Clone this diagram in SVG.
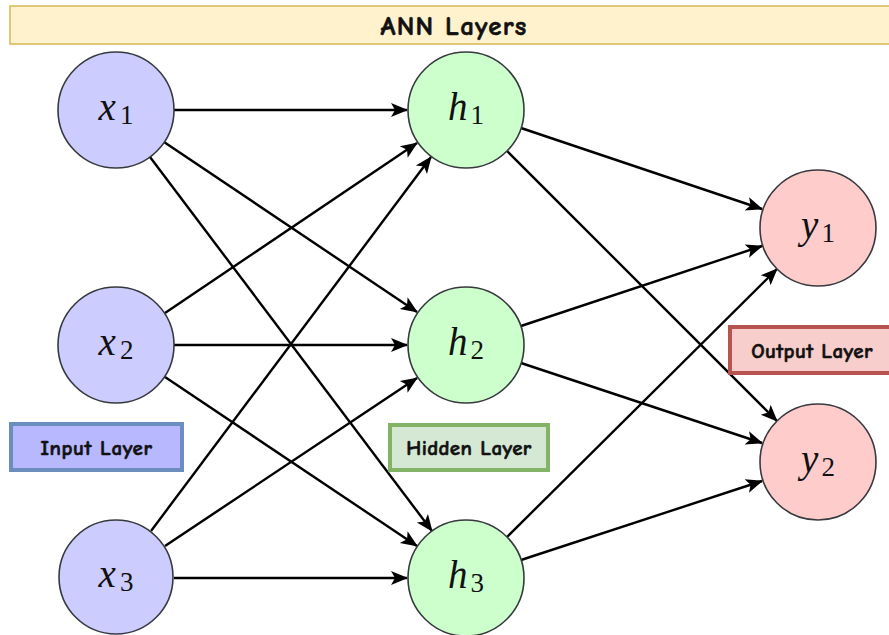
<svg xmlns="http://www.w3.org/2000/svg" width="889" height="635" viewBox="0 0 889 635">
  <defs>
    <marker id="arrow" markerUnits="userSpaceOnUse" markerWidth="18" markerHeight="16" viewBox="0 0 18 16" refX="16" refY="8" orient="auto">
      <path d="M0,1 L17,8 L0,15 L4,8 Z" fill="#000"/>
    </marker>
    <style>
      .edge { stroke: #000; stroke-width: 2.4; fill: none; marker-end: url(#arrow); }
      .node { stroke: #36393d; stroke-width: 1.6; }
      .in { fill: #ccccff; }
      .hid { fill: #ccffcc; }
      .out { fill: #ffcccc; }
      .math { font-family: "Liberation Serif", "DejaVu Serif", serif; font-size: 39px; fill: #111; }
      .sub { font-size: 27px; font-style: normal; }
      .lbl { font-family: "Comic Sans MS", "Comic Neue", "Liberation Sans", sans-serif; font-weight: bold; fill: #111; stroke: #111; stroke-width: 0.6; }
    </style>
  </defs>

  <!-- title bar -->
  <g id="title">
    <rect x="10" y="6" width="895" height="38" fill="#fff2cc" stroke="#d6b656" stroke-width="1.5"/>
    <text class="lbl" x="454" y="35" font-size="27" letter-spacing="1.2" text-anchor="middle">ANN Layers</text>
  </g>

  <!-- connectors -->
  <g id="edges">
    <!-- input to hidden -->
    <line class="edge" x1="174" y1="110" x2="407" y2="110"/>
    <line class="edge" x1="164" y1="142" x2="417" y2="312"/>
    <line class="edge" x1="150" y1="157" x2="432" y2="531"/>
    <line class="edge" x1="165" y1="313" x2="417" y2="143"/>
    <line class="edge" x1="174" y1="345" x2="407" y2="345"/>
    <line class="edge" x1="165" y1="377" x2="417" y2="546"/>
    <line class="edge" x1="151" y1="531" x2="431" y2="157"/>
    <line class="edge" x1="165" y1="546" x2="417" y2="378"/>
    <line class="edge" x1="174" y1="578" x2="407" y2="578"/>
    <!-- hidden to output -->
    <line class="edge" x1="521" y1="128" x2="762" y2="209"/>
    <line class="edge" x1="507" y1="151" x2="777" y2="421"/>
    <line class="edge" x1="521" y1="326" x2="762" y2="246"/>
    <line class="edge" x1="521" y1="363" x2="762" y2="443"/>
    <line class="edge" x1="507" y1="537" x2="777" y2="269"/>
    <line class="edge" x1="521" y1="560" x2="762" y2="481"/>
  </g>

  <!-- input layer -->
  <g id="x1">
    <circle class="node in" cx="116" cy="110" r="58"/>
    <text class="math" x="116" y="120" text-anchor="middle"><tspan font-style="italic">x</tspan><tspan class="sub" dx="4" dy="4">1</tspan></text>
  </g>
  <g id="x2">
    <circle class="node in" cx="116" cy="345" r="58"/>
    <text class="math" x="116" y="355" text-anchor="middle"><tspan font-style="italic">x</tspan><tspan class="sub" dx="4" dy="4">2</tspan></text>
  </g>
  <g id="x3">
    <circle class="node in" cx="116" cy="577" r="57"/>
    <text class="math" x="116" y="587" text-anchor="middle"><tspan font-style="italic">x</tspan><tspan class="sub" dx="4" dy="4">3</tspan></text>
  </g>

  <!-- hidden layer -->
  <g id="h1">
    <circle class="node hid" cx="466" cy="110" r="58"/>
    <text class="math" x="466" y="120" text-anchor="middle"><tspan font-style="italic">h</tspan><tspan class="sub" dx="3" dy="4">1</tspan></text>
  </g>
  <g id="h2">
    <circle class="node hid" cx="466" cy="345" r="58"/>
    <text class="math" x="466" y="355" text-anchor="middle"><tspan font-style="italic">h</tspan><tspan class="sub" dx="3" dy="4">2</tspan></text>
  </g>
  <g id="h3">
    <circle class="node hid" cx="466" cy="578" r="58"/>
    <text class="math" x="466" y="588" text-anchor="middle"><tspan font-style="italic">h</tspan><tspan class="sub" dx="3" dy="4">3</tspan></text>
  </g>

  <!-- output layer -->
  <g id="y1">
    <circle class="node out" cx="818" cy="228" r="58"/>
    <text class="math" x="818" y="238" text-anchor="middle"><tspan font-style="italic">y</tspan><tspan class="sub" dx="3" dy="4">1</tspan></text>
  </g>
  <g id="y2">
    <circle class="node out" cx="818" cy="462" r="58"/>
    <text class="math" x="818" y="472" text-anchor="middle"><tspan font-style="italic">y</tspan><tspan class="sub" dx="3" dy="4">2</tspan></text>
  </g>

  <!-- layer captions -->
  <g id="input-layer">
    <rect x="11" y="424" width="171" height="46" fill="#b8b8ff" stroke="#6c8ebf" stroke-width="4"/>
    <text class="lbl" x="96.5" y="455" font-size="21" letter-spacing="0.6" text-anchor="middle">Input Layer</text>
  </g>
  <g id="hidden-layer">
    <rect x="390" y="425" width="158" height="45" fill="#d5e8d4" stroke="#82b366" stroke-width="4"/>
    <text class="lbl" x="469" y="455" font-size="21" letter-spacing="0.4" text-anchor="middle">Hidden Layer</text>
  </g>
  <g id="output-layer">
    <rect x="730" y="327" width="170" height="46" fill="#f8cecc" stroke="#b85450" stroke-width="4"/>
    <text class="lbl" x="812" y="358" font-size="21" letter-spacing="0.4" text-anchor="middle">Output Layer</text>
  </g>
</svg>
